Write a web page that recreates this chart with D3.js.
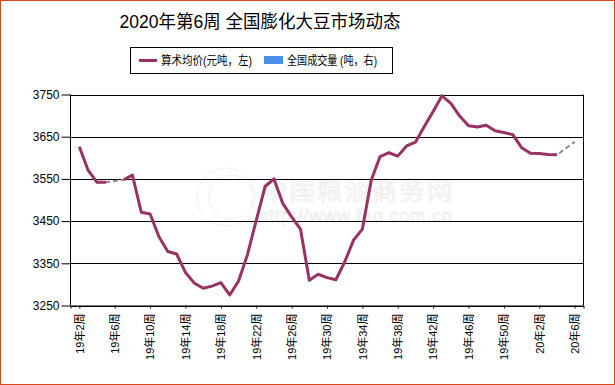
<!DOCTYPE html>
<html>
<meta charset="utf-8">
<head>
  <title>2020年第6周 全国膨化大豆市场动态</title>
</head>
<style>
body { margin: 0; background: #fff; }
text { font-family: "Liberation Sans", Arial, "Noto Sans CJK SC", sans-serif; }
.grid line { stroke: #000; }
</style>
<body>
  <div id="content">
    <svg width="615" height="385"></svg>
  </div>

<script src="https://d3js.org/d3.v7.min.js"></script>
<script>
var width = 615, height = 385

// week labels (x categories)
var weeks = [
  '19年2周','19年3周','19年4周','19年5周','19年6周','19年7周','19年8周','19年9周','19年10周',
  '19年11周','19年12周','19年13周','19年14周','19年15周','19年16周','19年17周','19年18周',
  '19年19周','19年20周','19年21周','19年22周','19年23周','19年24周','19年25周','19年26周',
  '19年27周','19年28周','19年29周','19年30周','19年31周','19年32周','19年33周','19年34周',
  '19年35周','19年36周','19年37周','19年38周','19年39周','19年40周','19年41周','19年42周',
  '19年43周','19年44周','19年45周','19年46周','19年47周','19年48周','19年49周','19年50周',
  '19年51周','19年52周','20年1周','20年2周','20年3周','20年4周','20年5周','20年6周'
]

// average price (元/吨), null = no quote that week
var price = [
  3626, 3570, 3542, 3542, null, 3548, 3559, 3471, 3467,
  3413, 3378, 3372, 3328, 3303, 3291, 3296, 3304,
  3275, 3308, 3370, 3452, 3532, 3550, 3492, 3460,
  3431, 3310, 3324, 3316, 3311, 3353, 3405, 3431,
  3547, 3603, 3612, 3604, 3628, 3637, 3674, 3710,
  3747, 3729, 3699, 3676, 3673, 3677, 3664, 3660,
  3655, 3624, 3611, 3610, 3608, 3607, null, 3638
]

var yTicks = [3250, 3350, 3450, 3550, 3650, 3750]
var xTicks = weeks.filter(function(d, i) { return i % 4 == 0 })

var svg = d3.select('svg')

// outer frame
svg.append('rect')
  .attr('x', 0.5).attr('y', 0.5)
  .attr('width', width - 1).attr('height', height - 1)
  .attr('fill', '#fff')
  .attr('stroke', '#d4491c')

var pLeft = 70.5, pRight = 583.5, pTop = 94.5, pBottom = 305.5

var x = d3.scalePoint()
  .domain(weeks)
  .range([pLeft, pRight])
  .padding(1)

var y = d3.scaleLinear()
  .domain([3250, 3750])
  .range([pBottom, pTop])

// title
svg.append('text')
  .attr('x', 260).attr('y', 28)
  .attr('text-anchor', 'middle')
  .style('font-size', '18px')
  .attr('textLength', 281)
  .attr('lengthAdjust', 'spacingAndGlyphs')
  .text('2020年第6周 全国膨化大豆市场动态')

// legend
var lg = svg.append('g')
lg.append('rect')
  .attr('x', 130.5).attr('y', 47.5)
  .attr('width', 262).attr('height', 26)
  .attr('fill', '#fff').attr('stroke', '#000')
lg.append('line')
  .attr('x1', 139).attr('x2', 157).attr('y1', 60.5).attr('y2', 60.5)
  .attr('stroke', '#993366').attr('stroke-width', 3)
lg.append('text')
  .attr('x', 161).attr('y', 65)
  .style('font-size', '12px')
  .attr('textLength', 91)
  .attr('lengthAdjust', 'spacingAndGlyphs')
  .text('算术均价(元吨，左)')
lg.append('rect')
  .attr('x', 264).attr('y', 56)
  .attr('width', 19).attr('height', 8)
  .attr('fill', '#4a90e8')
lg.append('text')
  .attr('x', 287).attr('y', 65)
  .style('font-size', '12px')
  .attr('textLength', 90)
  .attr('lengthAdjust', 'spacingAndGlyphs')
  .text('全国成交量 (吨，右)')

// watermark (faint outline)
var wm = svg.append('g').attr('fill', 'none').attr('stroke', '#e6e6e6').attr('stroke-width', 0.6)
wm.append('circle').attr('cx', 226).attr('cy', 197).attr('r', 29)
wm.append('circle').attr('cx', 231).attr('cy', 197).attr('r', 22)
wm.append('text')
  .attr('x', 262).attr('y', 200)
  .style('font-size', '25px')
  .attr('textLength', 190)
  .text('中国粮油商务网')
wm.append('text')
  .attr('x', 258).attr('y', 222)
  .style('font-size', '18px')
  .attr('textLength', 194)
  .text('http://www.fao.com.cn')

// y axis ticks and labels
var yAxis = svg.append('g')
  .attr('transform', 'translate(' + pLeft + ',0)')
  .call(d3.axisLeft(y).tickValues(yTicks).tickFormat(d3.format('d')).tickSize(9).tickPadding(2))
yAxis.select('.domain').remove()
yAxis.selectAll('.tick line').attr('stroke', '#000')
yAxis.selectAll('.tick text')
  .style('font-size', '12px')
  .style('font-family', '"Liberation Sans", Arial, sans-serif')
  .attr('fill', '#000')

// gridlines
svg.append('g').attr('class', 'grid')
  .selectAll('line')
  .data(yTicks)
  .enter().append('line')
  .attr('x1', pLeft).attr('x2', pRight)
  .attr('y1', function(d) { return Math.round(y(d)) + 0.5 })
  .attr('y2', function(d) { return Math.round(y(d)) + 0.5 })

// plot frame sides
svg.append('line')
  .attr('x1', pLeft).attr('x2', pLeft).attr('y1', pTop).attr('y2', pBottom)
  .attr('stroke', '#000')
svg.append('line')
  .attr('x1', pRight).attr('x2', pRight).attr('y1', pTop).attr('y2', pBottom)
  .attr('stroke', '#000')

// x axis
var xAxis = svg.append('g')
  .attr('transform', 'translate(0,' + pBottom + ')')
  .call(d3.axisBottom(x).tickValues(xTicks).tickSize(3).tickPadding(4))
xAxis.select('.domain').attr('stroke', '#000')
xAxis.selectAll('.tick line').attr('stroke', '#000')
xAxis.selectAll('.tick text')
  .style('font-size', '11px')
  .attr('fill', '#000')
  .attr('text-anchor', 'end')
  .attr('transform', 'rotate(-90)')
  .attr('x', -8)
  .attr('y', 0)
  .attr('dy', '0.35em')

// data
var pts = weeks.map(function(w, i) { return {w: w, v: price[i]} })

var line = d3.line()
  .x(function(d) { return x(d.w) })
  .y(function(d) { return y(d.v) })

// dashed connector across missing weeks
svg.append('path')
  .datum(pts.filter(function(d) { return d.v != null }))
  .attr('d', line)
  .attr('fill', 'none')
  .attr('stroke', '#888')
  .attr('stroke-width', 2)
  .attr('stroke-dasharray', '5,3')

svg.append('path')
  .datum(pts)
  .attr('d', line.defined(function(d) { return d.v != null }))
  .attr('fill', 'none')
  .attr('stroke', '#993366')
  .attr('stroke-width', 3)
  .attr('stroke-linejoin', 'round')
</script>
</body>
</html>
